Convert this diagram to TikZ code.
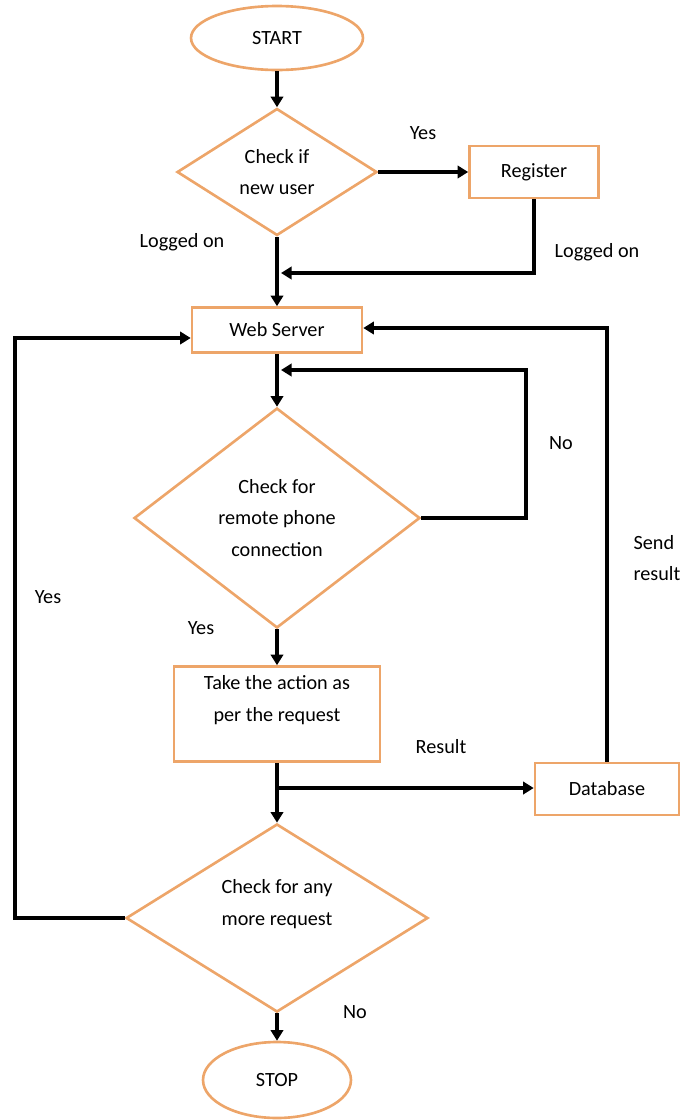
\documentclass[tikz,border=0pt]{standalone}
\usepackage{fontspec}
\setmainfont{Carlito}
\usetikzlibrary{shapes.geometric,arrows.meta}
\definecolor{boxorange}{RGB}{237,165,105}
\tikzset{
	flow/.style={draw=boxorange,line width=1.5pt,align=center,font=\fontsize{11.5}{18}\selectfont,inner sep=0pt},
	term/.style={flow,ellipse},
	proc/.style={flow,rectangle},
	decide/.style={flow,diamond},
	conn/.style={line width=2.2pt,-{Triangle[length=6pt,width=7pt]}},
	lbl/.style={font=\fontsize{11.5}{18}\selectfont,align=left}
}
\begin{document}
\begin{tikzpicture}[x=0.02cm,y=-0.02cm]
	%\draw[step=50,gray!20] (0,0) grid (685,1120); %Hilfsgitter
	\useasboundingbox (0,0) rectangle (685,1120);
	\node[term,minimum width=3.44cm,minimum height=1.28cm] (start) at (277,38) {START};
	\node[decide,minimum width=4cm,minimum height=2.54cm] (chk1) at (277,172) {Check if\\new user};
	\node[proc,minimum width=2.58cm,minimum height=1.04cm] (reg) at (534,172) {Register};
	\node[proc,minimum width=3.4cm,minimum height=0.9cm] (web) at (277,330) {Web Server};
	\node[decide,minimum width=5.72cm,minimum height=4.4cm] (chk2) at (277,518) {Check for\\remote phone\\connection};
	\node[proc,minimum width=4.12cm,minimum height=1.9cm] (act) at (277,714) {Take the action as\\per the request\\\mbox{}};
	\node[proc,minimum width=2.88cm,minimum height=1.04cm] (db) at (607,789) {Database};
	\node[decide,minimum width=6.04cm,minimum height=3.6cm] (chk3) at (277,918) {Check for any\\more request\\\mbox{}};
	\node[term,minimum width=2.96cm,minimum height=1.52cm] (stop) at (277,1080) {STOP};
	
	\node[lbl] (yes1) at (423,133) {Yes}; \node[lbl] (log1) at (182,242) {Logged on}; \node[lbl] (log2) at (597,252) {Logged on};
	\node[lbl] (no1) at (561,443) {No}; \node[lbl] (send) at (657,558) {Send\\result}; \node[lbl] (yes2) at (48,597) {Yes};
	\node[lbl] (yes3) at (201,628) {Yes}; \node[lbl] (res) at (441,747) {Result}; \node[lbl] (no2) at (355,1012) {No};
	
	\coordinate (j1) at (281,273); \coordinate (n1) at (526,518); \coordinate (n2) at (526,370); \coordinate (n3) at (281,370);
	\coordinate (l1) at (15,918); \coordinate (l2) at (15,338); \coordinate (r1) at (607,328); \coordinate (b1) at (277,788);
	
	\draw[conn] (start) -- (chk1); \draw[conn] (chk1.east) -- (reg.west); \draw[conn] (reg.south) |- (j1);
	\draw[conn] (chk1.south) -- (web.north); \draw[conn] (web.south) -- (chk2.north); \draw[conn] (chk2.east) -- (n1) -- (n2) -- (n3);
	\draw[conn] (chk2.south) -- (act.north); \draw[conn] (act.south) -- (chk3.north); \draw[conn] (b1) -- (b1 -| db.west);
	\draw[conn] (chk3.south) -- (stop.north); \draw[conn] (chk3.west) -- (l1) -- (l2) -- (l2 -| web.west);
	\draw[conn] (db.north) -- (r1) -- (r1 -| web.east);
\end{tikzpicture}
\end{document}
